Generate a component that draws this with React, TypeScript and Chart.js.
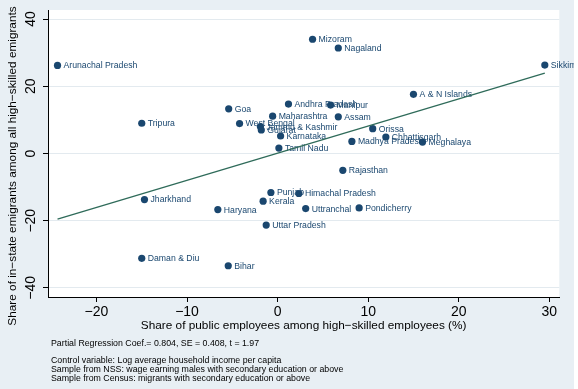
import { useEffect, useRef } from "react";
import { Chart, registerables } from "chart.js";

Chart.register(...registerables);

// ---- data ----
const stateNames = [
  "Arunachal Pradesh", "Goa", "Tripura", "West Bengal", "Andhra Pradesh",
  "Maharashtra", "Jammu & Kashmir", "Gujarat", "Karnataka", "Tamil Nadu",
  "Manipur", "Assam", "Orissa", "Madhya Pradesh", "Chhattisgarh",
  "Meghalaya", "A & N Islands", "Mizoram", "Nagaland", "Sikkim",
  "Rajasthan", "Himachal Pradesh", "Punjab", "Kerala", "Haryana",
  "Uttranchal", "Pondicherry", "Uttar Pradesh", "Bihar", "Jharkhand",
  "Daman & Diu",
];
const publicShare = [
  -24.3, -5.4, -15.0, -4.2, 1.2,
  -0.55, -1.9, -1.8, 0.33, 0.14,
  5.85, 6.7, 10.5, 8.2, 11.95,
  16.0, 15.0, 3.86, 6.7, 29.5,
  7.2, 2.35, -0.74, -1.6, -6.6,
  3.1, 9.0, -1.26, -5.45, -14.7,
  -15.0,
];
const inStateShare = [
  26.2, 13.3, 9.0, 8.9, 14.7,
  11.1, 8.0, 7.0, 5.2, 1.6,
  14.4, 10.9, 7.4, 3.6, 4.9,
  3.4, 17.6, 34.0, 31.4, 26.3,
  -5.0, -11.9, -11.6, -14.2, -16.7,
  -16.4, -16.2, -21.3, -33.4, -13.7,
  -31.2,
];
const fitX = [-24.3, 29.5];
const fitY = [-19.5, 23.9];

const xMin = -25.35;
const xMax = 31.1;
const yMin = -42.7;
const yMax = 42.7;
const xStep = 10;
const yStep = 20;

const xTitle = "Share of public employees among high\u2212skilled employees (%)";
const yTitle = "Share of in\u2212state emigrants among all high\u2212skilled emigrants";
const notes = [
  "Partial Regression Coef.= 0.804, SE = 0.408, t = 1.97",
  "Control variable: Log average household income per capita",
  "Sample from NSS: wage earning males with secondary education or above",
  "Sample from Census: migrants with secondary education or above",
];

// ---- styles ----
const FONT = "'Liberation Sans', Arial, Helvetica, sans-serif";
const REGION_BG = "#e8eff4";
const NAVY = "#1a476f";
const FIT = "#2f6b5a";
const GRID = "#e3eaef";
const W = 574;
const H = 389;

const minus = (v: number | string) => String(v).replace("-", "\u2212");

export default function App() {
  const ref = useRef<HTMLCanvasElement | null>(null);

  useEffect(() => {
    document.body.style.margin = "0";
    const canvas = ref.current;
    if (!canvas) return;

    const bgPlugin = {
      id: "bgRegions",
      beforeDraw(chart: any) {
        const { ctx, chartArea } = chart;
        ctx.save();
        ctx.fillStyle = REGION_BG;
        ctx.fillRect(0, 0, chart.width, chart.height);
        ctx.fillStyle = "#ffffff";
        ctx.fillRect(
          chartArea.left,
          chartArea.top,
          chartArea.right - chartArea.left,
          chartArea.bottom - chartArea.top
        );
        ctx.restore();
      },
    };

    const labelPlugin = {
      id: "pointLabels",
      afterDatasetDraw(chart: any, args: any) {
        if (args.index !== 1) return;
        const meta = chart.getDatasetMeta(1);
        const ctx = chart.ctx;
        ctx.save();
        ctx.font = `8.7px ${FONT}`;
        ctx.fillStyle = NAVY;
        ctx.textAlign = "left";
        ctx.textBaseline = "middle";
        meta.data.forEach((el: any, i: number) => {
          ctx.fillText(stateNames[i], el.x + 6, el.y + 0.5);
        });
        ctx.restore();
      },
    };

    const textPlugin = {
      id: "extraText",
      afterDraw(chart: any) {
        const ctx = chart.ctx;
        ctx.save();
        ctx.fillStyle = "#000";
        // y axis title
        ctx.font = `11.8px ${FONT}`;
        ctx.translate(13, 166);
        ctx.rotate(-Math.PI / 2);
        ctx.textAlign = "center";
        ctx.textBaseline = "middle";
        ctx.fillText(yTitle, 0, 0);
        ctx.setTransform(1, 0, 0, 1, 0, 0);
        // notes
        ctx.font = `8.8px ${FONT}`;
        ctx.textAlign = "left";
        ctx.textBaseline = "middle";
        const ys = [344, 361, 370, 379];
        notes.forEach((t, i) => ctx.fillText(t, 51, ys[i]));
        ctx.restore();
      },
    };

    const chart = new Chart(canvas, {
      type: "scatter",
      data: {
        datasets: [
          {
            type: "line",
            data: fitX.map((x, i) => ({ x, y: fitY[i] })),
            borderColor: FIT,
            borderWidth: 1.3,
            pointRadius: 0,
            fill: false,
          } as any,
          {
            type: "scatter",
            data: publicShare.map((x, i) => ({ x, y: inStateShare[i] })),
            backgroundColor: NAVY,
            borderColor: NAVY,
            borderWidth: 0,
            pointRadius: 3.6,
          },
        ],
      },
      options: {
        responsive: false,
        animation: false,
        devicePixelRatio: 1,
        layout: { padding: { left: 0, top: 10, right: W - 559.3, bottom: 0 } },
        plugins: {
          legend: { display: false },
          tooltip: { enabled: false },
        },
        scales: {
          x: {
            type: "linear",
            min: xMin,
            max: xMax,
            afterFit(scale: any) {
              scale.height = H - 297;
            },
            border: { display: true, color: "#000", width: 1 },
            grid: {
              drawOnChartArea: false,
              drawTicks: true,
              tickLength: 5,
              tickColor: "#000",
            },
            ticks: {
              stepSize: xStep,
              includeBounds: false,
              autoSkip: false,
              maxRotation: 0,
              padding: 1.5,
              color: "#000",
              font: { family: FONT, size: 14 },
              callback: (v: any) => minus(v),
            },
            title: {
              display: true,
              text: xTitle,
              color: "#000",
              font: { family: FONT, size: 11.8 },
              padding: { top: 0, bottom: 55.9 },
            },
          },
          y: {
            type: "linear",
            min: yMin,
            max: yMax,
            afterFit(scale: any) {
              scale.width = 48;
            },
            border: { display: true, color: "#000", width: 1 },
            grid: {
              color: GRID,
              drawOnChartArea: true,
              drawTicks: true,
              tickLength: 5,
              tickColor: "#000",
            },
            ticks: {
              stepSize: yStep,
              includeBounds: false,
              minRotation: 90,
              maxRotation: 90,
              crossAlign: "center",
              padding: 0,
              color: "#000",
              font: { family: FONT, size: 14 },
              callback: (v: any) => minus(v),
            },
          },
        },
      } as any,
      plugins: [bgPlugin, labelPlugin, textPlugin],
    });

    return () => chart.destroy();
  }, []);

  return <canvas ref={ref} width={W} height={H} style={{ display: "block" }} />;
}
